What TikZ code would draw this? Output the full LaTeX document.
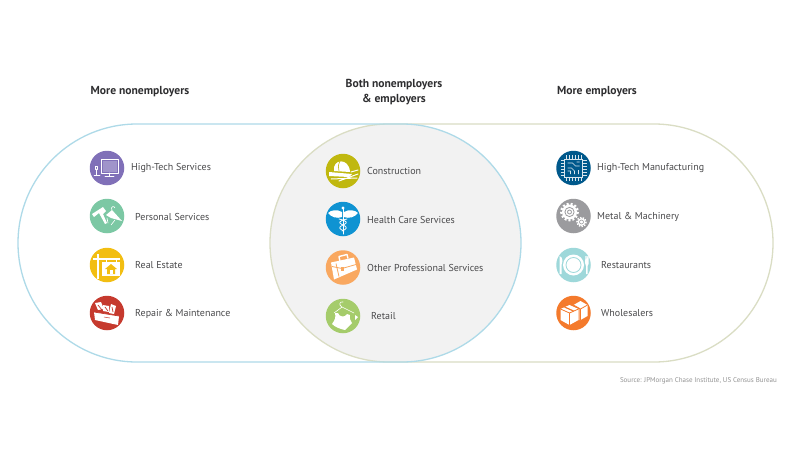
\documentclass[tikz,border=0pt]{standalone}
\usepackage{fontspec}
\setmainfont{PT Sans}
\definecolor{ringblue}{HTML}{AEDAE8}
\definecolor{ringolive}{HTML}{DADDC4}
\definecolor{lens}{HTML}{F2F2F2}
\definecolor{txt}{HTML}{4A4A4C}
\definecolor{head}{HTML}{2E2E30}
\definecolor{cPurple}{HTML}{8070B8}
\definecolor{cMint}{HTML}{7CC8A4}
\definecolor{cYellow}{HTML}{F2BE12}
\definecolor{cRed}{HTML}{C63A2E}
\definecolor{cOlive}{HTML}{C0B80F}
\definecolor{cBlue}{HTML}{0F93D2}
\definecolor{cPeach}{HTML}{F9A860}
\definecolor{cLime}{HTML}{A5CC6B}
\definecolor{cNavy}{HTML}{00598C}
\definecolor{cGrey}{HTML}{9B9B9E}
\definecolor{cTeal}{HTML}{9ED8DA}
\definecolor{cOrange}{HTML}{F47A2C}
\tikzset{
  x=1pt,y=-1pt,
  iconbg/.style={circle,minimum size=34.5pt,inner sep=0pt,draw=none},
  lbl/.style={anchor=west,inner sep=0pt,font=\fontsize{10}{11}\selectfont,text=txt},
  hdr/.style={inner sep=0pt,font=\fontsize{11.6}{15}\selectfont\bfseries,text=head,align=center},
  src/.style={anchor=east,inner sep=0pt,font=\fontsize{7}{8}\selectfont,text=gray!85},
  ln/.style={draw=white,line width=.8pt,line cap=round,line join=round},
  wf/.style={fill=white,draw=none}
}
\newcommand{\iconat}[3]{\begin{scope}[shift={(#1)}]\def\bgc{#2}#3\end{scope}}
\begin{document}
\begin{tikzpicture}
\useasboundingbox (0,0) rectangle (800,450);
\fill[white] (0,0) rectangle (800,450);
% lens
\fill[lens] (389,124) -- (402,124) .. controls (467.7,124) and (521,177.3) .. (521,243) .. controls (521,308.7) and (467.7,362) .. (402,362) -- (389,362) .. controls (323.3,362) and (270,308.7) .. (270,243) .. controls (270,177.3) and (323.3,124) .. (389,124) -- cycle;
% stadium outlines
\draw[ringolive,line width=1.3pt] (389,124) -- (654,124) .. controls (719.7,124) and (773,177.3) .. (773,243) .. controls (773,308.7) and (719.7,362) .. (654,362) -- (389,362) .. controls (323.3,362) and (270,308.7) .. (270,243) .. controls (270,177.3) and (323.3,124) .. (389,124) -- cycle;
\draw[ringblue,line width=1.3pt] (137,124) -- (402,124) .. controls (467.7,124) and (521,177.3) .. (521,243) .. controls (521,308.7) and (467.7,362) .. (402,362) -- (137,362) .. controls (71.3,362) and (18,308.7) .. (18,243) .. controls (18,177.3) and (71.3,124) .. (137,124) -- cycle;
% headers
\node[hdr] (h1) at (140,92) {More nonemployers};
\node[hdr] (h2) at (394,92.5) {Both nonemployers\\\& employers};
\node[hdr] (h3) at (597,92) {More employers};
% left column
\node[iconbg,fill=cPurple] (i1) at (107,168) {};
\node[iconbg,fill=cMint] (i2) at (107,216) {};
\node[iconbg,fill=cYellow] (i3) at (107,265) {};
\node[iconbg,fill=cRed] (i4) at (107,313) {};
\node[lbl] (t1) at (131,168) {High-Tech Services};
\node[lbl] (t2) at (135,216.5) {Personal Services};
\node[lbl] (t3) at (135,265) {Real Estate};
\node[lbl] (t4) at (135,313.5) {Repair \& Maintenance};
% centre column
\node[iconbg,fill=cOlive] (i5) at (343,171) {};
\node[iconbg,fill=cBlue] (i6) at (343,219) {};
\node[iconbg,fill=cPeach] (i7) at (343,267.5) {};
\node[iconbg,fill=cLime] (i8) at (343,316) {};
\node[lbl] (t5) at (367,171) {Construction};
\node[lbl] (t6) at (367,219.5) {Health Care Services};
\node[lbl] (t7) at (367,268) {Other Professional Services};
\node[lbl] (t8) at (371,316.5) {Retail};
% right column
\node[iconbg,fill=cNavy] (i9) at (573.5,168) {};
\node[iconbg,fill=cGrey] (i10) at (573.5,216) {};
\node[iconbg,fill=cTeal] (i11) at (573.5,265) {};
\node[iconbg,fill=cOrange] (i12) at (573.5,313) {};
\node[lbl] (t9) at (597,168.5) {High-Tech Manufacturing};
\node[lbl] (t10) at (597,216.5) {Metal \& Machinery};
\node[lbl] (t11) at (601,265) {Restaurants};
\node[lbl] (t12) at (601,313.5) {Wholesalers};
\node[src] (s) at (777,380.5) {Source: JPMorgan Chase Institute, US Census Bureau};
% --- icons ---
% monitor
\iconat{107,168}{cPurple}{
 \draw[ln] (-6,-9) rectangle (11,5);
 \fill[white!25!cPurple] (-4.5,-7.5) rectangle (9.5,3.5);
 \draw[ln] (2.5,5) -- (2.5,8) (-2,8.5) -- (7,8.5);
 \draw[ln,line width=.5pt] (-12,-2) rectangle (-9.5,1) (-11,1) -- (-11,7) (-13,7) -- (-7,7);
}
% hairdryer + hanger
\iconat{107,216}{cMint}{
 \fill[white] (-15,-2) -- (-4,-9) -- (-1,-5) -- (-4,-2) -- (0,7) -- (-2,8) -- (-8,-3) -- (-13,1) -- cycle;
 \fill[white] (-1,-1) -- (5,-6) -- (15,5) -- (4,2) -- cycle;
 \draw[ln,line width=.6pt] (5,-6) .. controls (3,-9) and (7,-11) .. (8,-8);
 \draw[ln,line width=.6pt] (0,2) -- (1,7) (8,4) -- (4,9);
}
% real estate sign
\iconat{107,265}{cYellow}{
 \draw[ln,line width=1.4pt,line cap=butt] (-9,-11) -- (-9,14) (-14,-6) -- (13,-6);
 \draw[ln,line width=.9pt,line cap=butt] (-1,-6) -- (-1,-3) (9,-6) -- (9,-3);
 \fill[white] (-5,-3) rectangle (13,11);
 \fill[cYellow] (4,-1) -- (10,4) -- (8,4) -- (8,9) -- (0,9) -- (0,4) -- (-2,4) -- cycle;
 \fill[white] (2.5,5) rectangle (5.5,9);
}
% toolbox
\iconat{107,313}{cRed}{
 \fill[white] (-13,-1) -- (12,3) -- (11,12) -- (-12,7) -- cycle;
 \fill[white] (-12,-10) -- (-6,-11) -- (-3,-4) -- (-9,-3) -- cycle;
 \fill[white] (-4,-8) -- (2,-7) -- (2,-1) -- (-4,-2) -- cycle;
 \fill[white] (4,-9) -- (9,-7) -- (7,1) -- (2,0) -- cycle;
 \draw[cRed,line width=.7pt] (-13,-1) -- (12,3) (-9,-8) -- (-5,-3) (-2,-6) -- (1,-2) (5,-6) -- (6,-1);
 \draw[cRed,line width=.5pt] (-3,4) -- (3,5);
}
% hard hat
\iconat{343,171}{cOlive}{
 \fill[white] (-9,0) .. controls (-11,-12) and (6,-14) .. (7,1) -- cycle;
 \fill[white] (-14,1) -- (9,3) -- (6,6) -- (-14,5) -- cycle;
 \draw[cOlive,line width=.6pt] (-3,-10) .. controls (-5,-6) and (-5,-3) .. (-4,0);
 \draw[ln,line width=1pt] (-12,8) -- (14,7) (-4,10) -- (15,3) (8,1) -- (15,-1);
}
% caduceus
\iconat{343,219}{cBlue}{
 \fill[white] (-1,-7) .. controls (-6,-10) and (-12,-9) .. (-15,-6) .. controls (-12,-2) and (-6,0) .. (-1,-2) -- cycle;
 \fill[white] (1,-7) .. controls (6,-10) and (12,-9) .. (15,-6) .. controls (12,-2) and (6,0) .. (1,-2) -- cycle;
 \draw[ln,line width=1pt] (0,-11) -- (0,15);
 \fill[white] (0,-11) circle (1.6);
 \draw[ln,line width=.8pt] (-4,0) .. controls (5,2) and (5,4) .. (0,6) .. controls (-5,8) and (-4,10) .. (1,12);
 \draw[ln,line width=.8pt] (4,0) .. controls (-5,2) and (-5,4) .. (0,6) .. controls (5,8) and (4,10) .. (-1,12);
}
% briefcase
\iconat{343,267.5}{cPeach}{
 \fill[white] (-12,-5) -- (11,-10) -- (14,2) -- (-9,12) -- cycle;
 \draw[ln,line width=1.4pt,line cap=butt] (-3,-6) -- (-4,-11) -- (4,-13) -- (5,-9);
 \draw[cPeach,line width=.8pt] (-11,-1) -- (-1,1) -- (13,-3);
 \draw[cPeach,line width=.8pt] (-7,-4) -- (-4,9);
 \fill[cPeach] (-2.5,-1) rectangle (1,3);
}
% tank top on hanger
\iconat{343,316}{cLime}{
 \draw[ln,line width=.6pt] (-1,-9) .. controls (-5,-11) and (-3,-15) .. (0,-14) (-1,-9) -- (-9,-3) (-1,-9) -- (11,-3);
 \fill[white] (-8,-3) -- (-5,-3) .. controls (-4,1) and (2,2) .. (4,-2) -- (7,-1) .. controls (6,3) and (8,5) .. (9,7) -- (2,14) .. controls (-3,13) and (-8,11) .. (-11,8) .. controls (-8,4) and (-7,1) .. (-8,-3) -- cycle;
 \fill[white] (12,-1) -- (15,1) -- (12,4) -- cycle;
}
% chip
\iconat{573.5,168}{cNavy}{
 \draw[line width=.9pt,draw=white!85!cNavy] (-9,-9) rectangle (9,9);
 \foreach \t in {-7,-4,-1,2,5,8}{
  \draw[white!85!cNavy,line width=.7pt] (\t-.5,-13) -- (\t-.5,-9) (\t-.5,9) -- (\t-.5,13) (-13,\t-.5) -- (-9,\t-.5) (9,\t-.5) -- (13,\t-.5);
 }
 \draw[white!85!cNavy,line width=.7pt,line join=round] (-6,-5) -- (-1,-5) -- (2,-2) -- (6,-2) (-6,0) -- (-2,0) -- (1,3) -- (1,6) (-3,6) -- (-3,3) -- (-6,3) (3,-6) -- (6,-6) (5,2) -- (5,6);
}
% gears
\iconat{573.5,216}{cGrey}{
 \fill[white] (-4,-4) circle (7.5);
 \draw[white,line width=2.2pt,dash pattern=on 2pt off 2pt] (-4,-4) circle (8.3);
 \draw[cGrey,line width=.8pt] (-4,-4) circle (4.6);
 \draw[cGrey,line width=.8pt] (-4,-4) circle (2);
 \fill[white] (8,6) circle (3.9);
 \draw[white,line width=1.5pt,dash pattern=on 1.4pt off 1.4pt] (8,6) circle (4.6);
 \draw[cGrey,line width=.6pt] (8,6) circle (2);
}
% plate
\iconat{573.5,265}{cTeal}{
 \fill[white] (0,0) circle (10.5);
 \draw[cTeal,line width=.8pt] (0,0) circle (7.5);
 \fill[white] (-14,-9) .. controls (-10,-8) and (-11,-2) .. (-12,0) -- (-12,9) -- (-14,9) -- cycle;
 \fill[white] (12,-9) -- (13,-9) -- (13,-4) -- (14,-9) -- (15,-9) -- (15,-1) -- (14,1) -- (14,9) -- (12.5,9) -- (12.5,1) -- (11.5,-2) -- cycle;
}
% boxes
\iconat{573.5,313}{cOrange}{
 \fill[white] (-13,-4) -- (-4,-8) -- (5,-4) -- (5,7) -- (-4,12) -- (-13,7) -- cycle;
 \fill[white] (0,-8) -- (7,-12) -- (14,-8) -- (14,3) -- (7,7) -- (6,7) -- (6,-5) -- cycle;
 \draw[cOrange,line width=.8pt,line join=round] (-13,-4) -- (-4,0) -- (5,-4) (-4,0) -- (-4,12);
 \draw[cOrange,line width=.8pt,line join=round] (0,-8) -- (7,-4) -- (14,-8) (7,-4) -- (7,7);
 \draw[cOrange,line width=1.2pt] (-9,-6) -- (0,-2);
}
\end{tikzpicture}
\end{document}
